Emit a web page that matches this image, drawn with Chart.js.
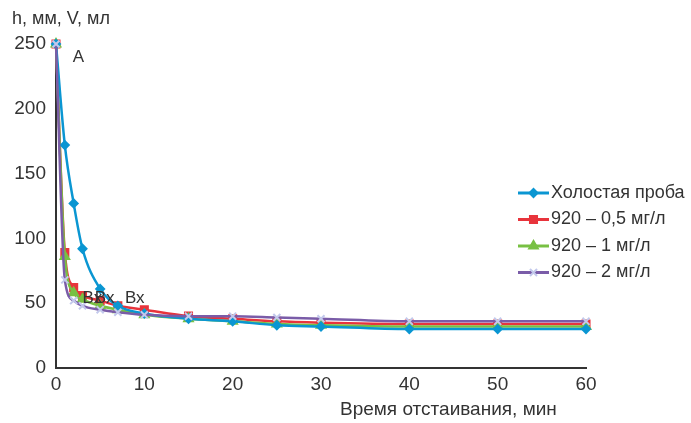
<!DOCTYPE html>
<html lang="ru">
<head>
<meta charset="UTF-8">
<title>Время отстаивания</title>
<script src="https://cdn.jsdelivr.net/npm/chart.js"></script>
<style>
  * { margin: 0; padding: 0; box-sizing: border-box; }
  body { background: #fff; width: 691px; height: 423px; overflow: hidden; }
  #wrap { position: relative; width: 691px; height: 423px; }
</style>
</head>
<body>
<div id="wrap"><canvas id="chart" width="691" height="423"></canvas></div>
<script>
// время отстаивания, мин
const minutes = [0, 1, 2, 3, 5, 7, 10, 15, 20, 25, 30, 40, 50, 60];
// высота / объём, мм / мл
const blank = [250, 172, 127, 92, 61, 48, 42, 38, 36, 33, 32, 30, 30, 30];
const dose05 = [250, 89, 62, 56, 52, 48, 45, 40, 38, 36, 35, 34, 34, 34];
const dose1 = [250, 86, 58, 53, 48, 45, 41, 38, 36, 34, 33, 32, 32, 32];
const dose2 = [250, 68, 52, 48, 45, 43, 41, 40, 40, 39, 38, 36, 36, 36];
const seriesNames = ['Холостая проба', '920 – 0,5 мг/л', '920 – 1 мг/л', '920 – 2 мг/л'];
const xTicks = [0, 10, 20, 30, 40, 50, 60];
const yTicks = [0, 50, 100, 150, 200, 250];
// подписи точек на графике
const notes = [
  { text: 'A', x: 1.9, y: 240 },
  { text: 'Вх', x: 3.0, y: 54 },
  { text: 'Вх', x: 4.4, y: 54 },
  { text: 'Вх', x: 7.8, y: 54 }
];

const FONT = "'Liberation Sans Narrow', 'Liberation Sans', Arial, sans-serif";

function pts(vals) { return minutes.map((m, i) => ({ x: m, y: vals[i] })); }

const styles = [
  { color: '#0a96d2', pointStyle: 'rectRot', radius: 4, pointColor: '#0a96d2', order: 1 },
  { color: '#e8343c', pointStyle: 'rect', radius: 5, pointColor: '#e8343c', order: 3 },
  { color: '#78c043', pointStyle: 'triangle', radius: 5, pointColor: '#78c043', order: 2 },
  { color: '#7a5ca8', pointStyle: 'crossRot', radius: 5, pointColor: '#c3c9ec', order: 0 }
];
const values = [blank, dose05, dose1, dose2];

const extras = {
  id: 'extras',
  afterDraw(chart) {
    const ctx = chart.ctx;
    const xs = chart.scales.x, ys = chart.scales.y;
    ctx.save();
    ctx.fillStyle = '#333';
    ctx.font = '17px ' + FONT;
    ctx.textBaseline = 'middle';
    ctx.textAlign = 'left';
    notes.forEach(n => ctx.fillText(n.text, xs.getPixelForValue(n.x), ys.getPixelForValue(n.y)));
    // заголовки осей
    ctx.font = '18px ' + FONT;
    ctx.fillText('h, мм, V, мл', 12, 19);
    ctx.font = '19px ' + FONT;
    ctx.fillText('Время отстаивания, мин', 340, 410);
    // легенда
    ctx.font = '18px ' + FONT;
    chart.data.datasets.forEach((ds, i) => {
      const y = 193 + i * 26.5;
      ctx.strokeStyle = ds.borderColor;
      ctx.lineWidth = 3;
      ctx.beginPath(); ctx.moveTo(518, y); ctx.lineTo(549, y); ctx.stroke();
      ctx.fillStyle = ds.pointBackgroundColor;
      ctx.strokeStyle = ds.pointBorderColor;
      ctx.lineWidth = 2;
      Chart.helpers.drawPoint(ctx, {
        pointStyle: ds.pointStyle, radius: ds.pointRadius, borderWidth: 2, rotation: 0
      }, 533.5, y);
      ctx.fillStyle = '#333';
      ctx.fillText(ds.label, 551, y);
    });
    ctx.restore();
  }
};

new Chart(document.getElementById('chart'), {
  type: 'line',
  data: {
    datasets: values.map((v, i) => ({
      label: seriesNames[i],
      data: pts(v),
      order: styles[i].order,
      borderColor: styles[i].color,
      backgroundColor: styles[i].pointColor,
      pointBackgroundColor: styles[i].pointColor,
      pointBorderColor: styles[i].pointColor,
      pointStyle: styles[i].pointStyle,
      pointRadius: styles[i].radius,
      pointBorderWidth: 2,
      borderWidth: 2.5,
      cubicInterpolationMode: 'monotone',
      clip: false
    }))
  },
  options: {
    responsive: false,
    animation: false,
    layout: { padding: { left: 0, right: 105, top: 44, bottom: 0 } },
    plugins: { legend: { display: false }, tooltip: { enabled: false } },
    scales: {
      x: {
        type: 'linear', min: 0, max: 60,
        afterBuildTicks: s => { s.ticks = xTicks.map(v => ({ value: v })); },
        afterFit: s => { s.height = 55; },
        grid: { display: false, drawTicks: false },
        border: { color: '#333', width: 2 },
        ticks: { color: '#333', font: { family: FONT, size: 19 }, padding: 5, maxRotation: 0 }
      },
      y: {
        min: 0, max: 250,
        afterBuildTicks: s => { s.ticks = yTicks.map(v => ({ value: v })); },
        afterFit: s => { s.width = 56; },
        grid: { display: false, drawTicks: false },
        border: { color: '#333', width: 2 },
        ticks: { color: '#333', font: { family: FONT, size: 19 }, padding: 10 }
      }
    }
  },
  plugins: [extras]
});
</script>
</body>
</html>
